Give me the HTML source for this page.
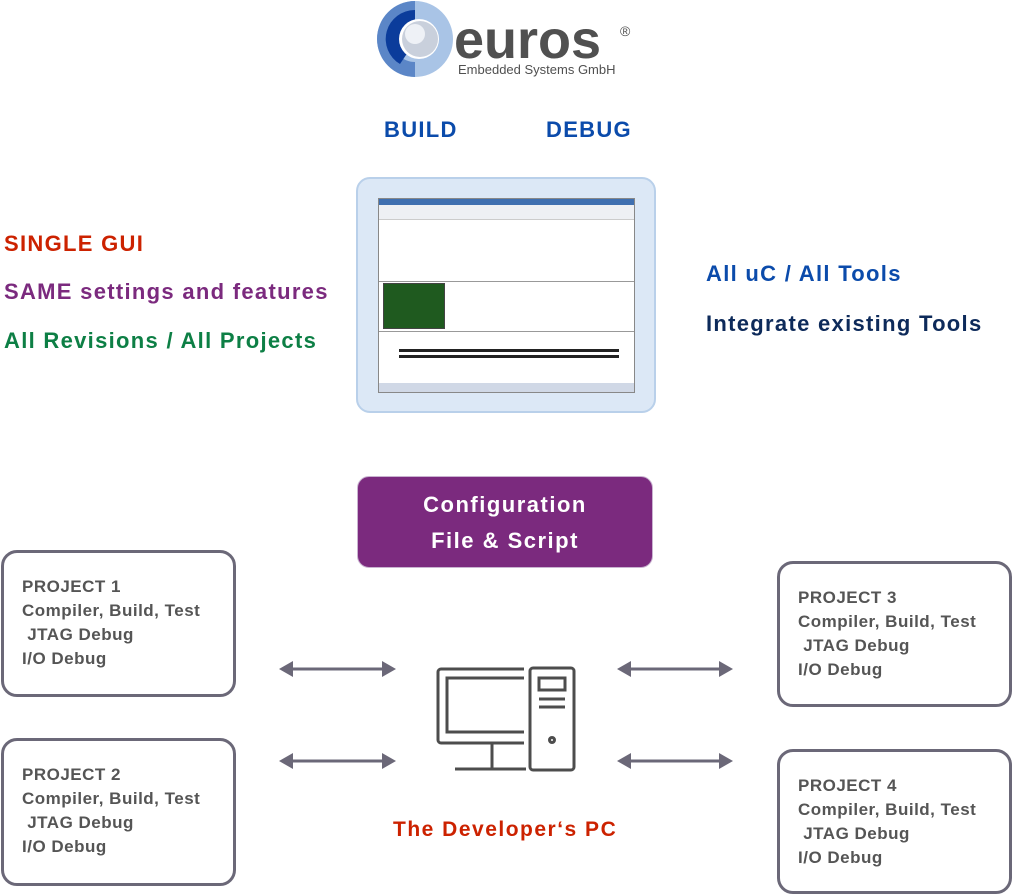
<!DOCTYPE html>
<html><head><meta charset="utf-8"><style>
body{margin:0;width:1013px;height:896px;background:#fff;position:relative;overflow:hidden;font-family:"Liberation Sans",sans-serif}
.a{position:absolute}
.lbl{font-weight:bold;font-size:22px;white-space:nowrap;letter-spacing:1.3px}
.box{position:absolute;border:3px solid #6b6878;border-radius:16px;box-sizing:border-box;background:#fff}
.box div{position:absolute;left:18px;top:22px;color:#555;font-weight:bold;font-size:17px;line-height:24px;white-space:pre;letter-spacing:0.5px}
</style></head><body>
<!-- logo -->
<svg class="a" style="left:370px;top:0" width="280" height="85">
<circle cx="45" cy="39" r="38" fill="#a9c4e6"/>
<path d="M45 1 A38 38 0 0 0 45 77 L45 62 A23 23 0 0 1 45 16Z" fill="#5b86c7"/>
<path d="M45 10 A29 29 0 0 0 30 64 L38 52 A16 16 0 0 1 45 23Z" fill="#0b3c9b"/>
<circle cx="49" cy="39" r="20" fill="#fff"/>
<circle cx="50" cy="39" r="18" fill="#c9d0dc"/>
<circle cx="45" cy="34" r="10" fill="#eef1f6"/>
<text x="84" y="58" font-family="Liberation Sans" font-weight="bold" font-size="54" fill="#505050" letter-spacing="0">euros</text>
<text x="250" y="36" font-family="Liberation Sans" font-size="14" fill="#505050">®</text>
<text x="88" y="74" font-family="Liberation Sans" font-size="13" fill="#505050">Embedded Systems GmbH</text>
</svg>
<div class="a lbl" style="left:384px;top:117px;color:#0b4bab">BUILD</div>
<div class="a lbl" style="left:546px;top:117px;color:#0b4bab">DEBUG</div>
<div class="a lbl" style="left:4px;top:231px;color:#cc2200">SINGLE GUI</div>
<div class="a lbl" style="left:4px;top:279px;color:#7b2a7e">SAME settings and features</div>
<div class="a lbl" style="left:4px;top:328px;color:#0d7f45">All Revisions / All Projects</div>
<div class="a lbl" style="left:706px;top:261px;color:#0b4bab">All uC / All Tools</div>
<div class="a lbl" style="left:706px;top:311px;color:#0d2a5a">Integrate existing Tools</div>
<!-- screenshot -->
<div class="a" style="left:356px;top:177px;width:296px;height:232px;background:#dce8f6;border:2px solid #b9d0ea;border-radius:14px"></div>
<div class="a" style="left:378px;top:198px;width:255px;height:193px;background:#fff;border:1px solid #888">
 <div class="a" style="left:0;top:0;width:255px;height:6px;background:#3f6fb0"></div>
 <div class="a" style="left:0;top:6px;width:255px;height:14px;background:#eef0f4;border-bottom:1px solid #ccc"></div>
 <div class="a" style="left:4px;top:84px;width:60px;height:44px;background:#1f5a1f;border:1px solid #444"></div>
 <div class="a" style="left:0;top:82px;width:255px;height:1px;background:#999"></div>
 <div class="a" style="left:0;top:132px;width:255px;height:1px;background:#999"></div>
 <div class="a" style="left:20px;top:150px;width:220px;height:3px;background:#222"></div>
 <div class="a" style="left:20px;top:156px;width:220px;height:3px;background:#222"></div>
 <div class="a" style="left:0;top:184px;width:255px;height:9px;background:#d0d8e6"></div>
</div>
<!-- config -->
<div class="a" style="left:357px;top:476px;width:296px;height:92px;background:#7b2a7e;border:1px solid #c9b3d0;border-radius:12px;color:#fff;font-weight:bold;font-size:22px;line-height:36px;text-align:center;box-sizing:border-box;padding-top:10px;letter-spacing:1.5px">Configuration<br>File &amp; Script</div>
<div class="box" style="left:1px;top:550px;width:235px;height:147px"><div>PROJECT 1
Compiler, Build, Test
 JTAG Debug
I/O Debug</div></div>
<div class="box" style="left:1px;top:738px;width:235px;height:148px"><div>PROJECT 2
Compiler, Build, Test
 JTAG Debug
I/O Debug</div></div>
<div class="box" style="left:777px;top:561px;width:235px;height:146px"><div>PROJECT 3
Compiler, Build, Test
 JTAG Debug
I/O Debug</div></div>
<div class="box" style="left:777px;top:749px;width:235px;height:145px"><div>PROJECT 4
Compiler, Build, Test
 JTAG Debug
I/O Debug</div></div>
<svg class="a" style="left:0;top:0" width="1013" height="896">
<g fill="#6b6878" stroke="#6b6878" stroke-width="3">
<line x1="290" y1="669" x2="385" y2="669"/><line x1="290" y1="761" x2="385" y2="761"/>
<line x1="628" y1="669" x2="722" y2="669"/><line x1="628" y1="761" x2="722" y2="761"/>
</g>
<g fill="#6b6878">
<polygon points="279,669 293,661 293,677"/><polygon points="396,669 382,661 382,677"/>
<polygon points="279,761 293,753 293,769"/><polygon points="396,761 382,753 382,769"/>
<polygon points="617,669 631,661 631,677"/><polygon points="733,669 719,661 719,677"/>
<polygon points="617,761 631,753 631,769"/><polygon points="733,761 719,753 719,769"/>
</g>
<g fill="none" stroke="#4d4d4d" stroke-width="3">
<path d="M524 669 H441 a3 3 0 0 0 -3 3 V740 a3 3 0 0 0 3 3 H524"/>
<path d="M524 678 H447 V732 H524"/>
<line x1="492" y1="743" x2="492" y2="769"/><line x1="455" y1="769" x2="526" y2="769"/>
<rect x="530" y="668" width="44" height="102" rx="3"/>
<rect x="539" y="678" width="26" height="12"/>
<line x1="539" y1="699" x2="565" y2="699"/><line x1="539" y1="707" x2="565" y2="707"/>
<circle cx="552" cy="740" r="2.5"/>
</g>
</svg>
<div class="a lbl" style="left:393px;top:818px;color:#cc2200;font-size:21px;letter-spacing:1.5px">The Developer‘s PC</div>
</body></html>
